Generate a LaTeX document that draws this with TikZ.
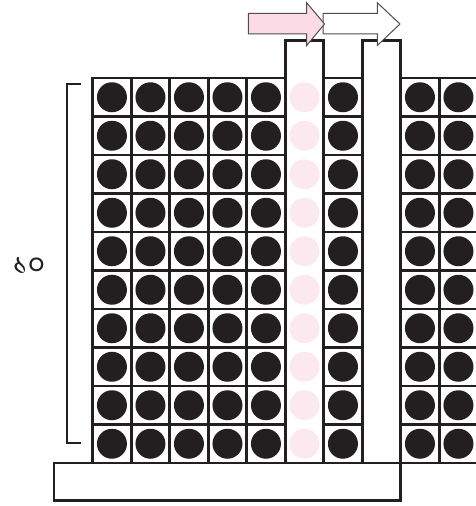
\documentclass[tikz,border=0pt]{standalone}
\usepackage{fontspec}
\newfontfamily\bengfont[Script=Bengali]{Hind Siliguri}
\definecolor{ink}{HTML}{231F20}
\definecolor{pinkdot}{HTML}{FCE9EF}
\definecolor{pinkarrow}{HTML}{FADBE6}
\tikzset{
  gridline/.style={draw=ink, line width=2.8pt},
  wall/.style={draw=ink, line width=2.8pt},
  blackdot/.style={fill=ink},
  pinkball/.style={fill=pinkdot},
  arrowshape/.style={draw=ink!80, line width=1pt, line join=miter},
}
\begin{document}
\begin{tikzpicture}[x=1pt,y=-1pt]
\useasboundingbox (0,0) rectangle (476,506);
\def\cw{38.5}
\def\top{78}
% left block (5 columns) and column 7, right block
\foreach \cx in {92.7,131.2,169.7,208.2,246.7,323.7,400.7,439.2}{
  \foreach \r in {0,...,9}{
    \pgfmathsetmacro{\yy}{\top+\r*\cw}
    \fill[blackdot] (\cx+19.25,\yy+19.25) circle[radius=15pt];
    \draw[gridline] (\cx,\yy) rectangle ++(\cw,\cw);
  }
}
% pink column
\foreach \r in {0,...,9}{
  \pgfmathsetmacro{\yy}{\top+\r*\cw}
  \fill[pinkball] (285.2+19.25,\yy+19.25) circle[radius=15pt];
}
% tubes
\draw[wall] (285.2,\top) -- (285.2,40.5) -- (323.7,40.5) -- (323.7,\top);
\draw[wall] (362.2,\top) -- (362.2,40.5) -- (400.7,40.5) -- (400.7,500.5) -- (54,500.5) -- (54,463) -- (400.7,463);
\draw[wall] (362.2,\top) -- (362.2,463);
% bracket
\draw[draw=ink, line width=2.2pt] (81,84) -- (67,84) -- (67,443) -- (81,443);
\node[anchor=center, inner sep=0pt, font=\bengfont\fontsize{30}{30}\selectfont, text=ink] (label) at (29,266) {১০};
% arrows
\draw[arrowshape, fill=white] (323,13.3) -- (377.3,13.3) -- (377.3,2.7) -- (400,24) -- (377.3,45.5) -- (377.3,33.8) -- (323,33.8) -- cycle;
\draw[arrowshape, fill=pinkarrow] (248.3,13.3) -- (306.7,13.3) -- (306.7,2.7) -- (324.5,24) -- (306.7,45.5) -- (306.7,33.8) -- (248.3,33.8) -- cycle;
\end{tikzpicture}
\end{document}
